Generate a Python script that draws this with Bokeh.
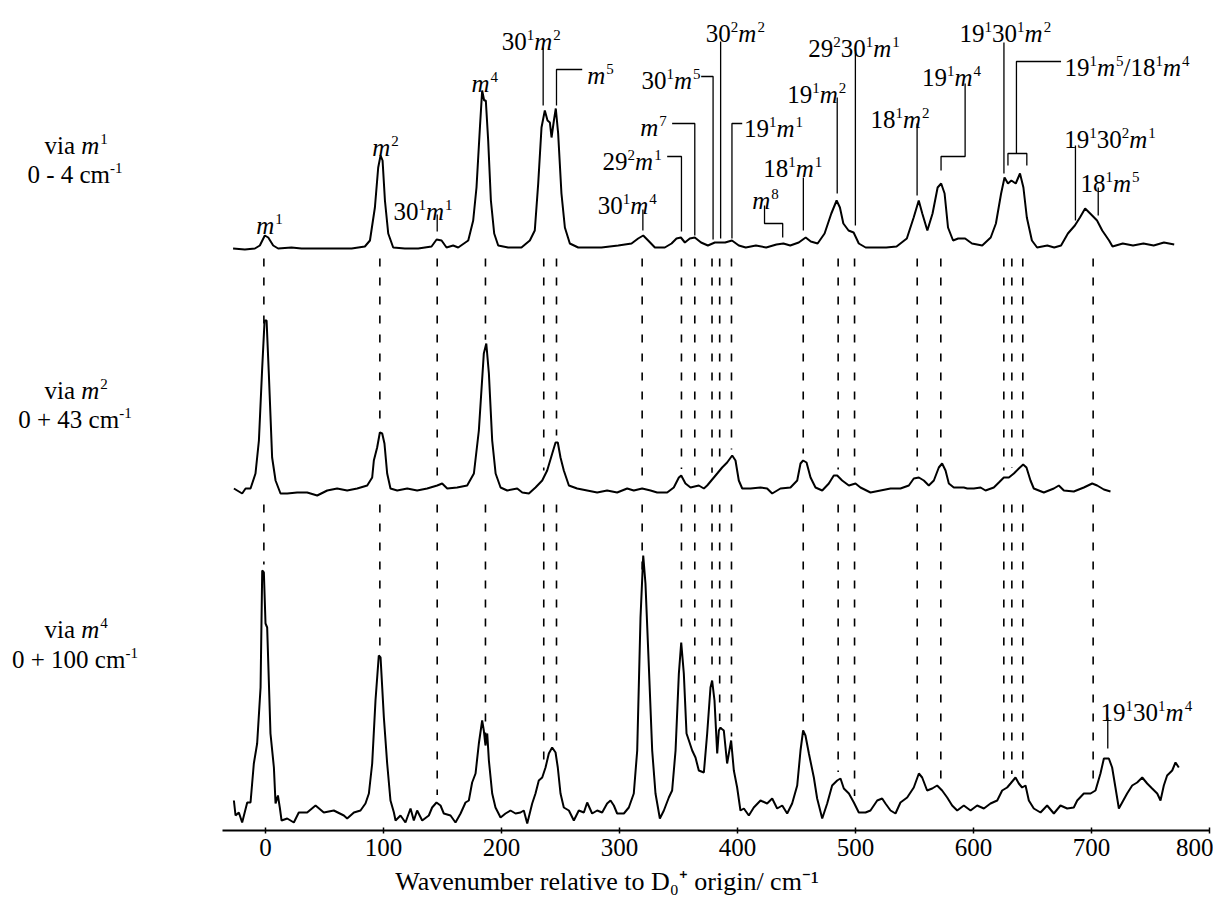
import numpy as np
from bokeh.plotting import figure
from bokeh.models import ColumnDataSource, Range1d, FixedTicker
from bokeh.core.properties import value
from bokeh.embed import file_html
from bokeh.resources import INLINE

FONT = "Liberation Serif"

# --- spectra: wavenumber (cm-1) and intensity (arb. units) ---
x_m1 = [-27.5, -17.5, -9.0, -4.8, -0.6, 2.3, 6.5, 10.7, 22.0, 30.5,
        44.6, 58.8, 73.0, 84.2, 88.5, 92.7, 95.5, 97.5, 99.2, 101.2,
        104.0, 108.2, 118.1, 129.4, 140.7, 145.0, 149.2, 153.4, 159.0, 163.3,
        171.8, 176.0, 178.8, 181.7, 183.6, 185.3, 186.7, 188.7, 191.0, 193.8,
        197.2, 205.6, 216.9, 224.0, 228.2, 231.1, 233.9, 236.7, 239.0, 241.0,
        242.4, 244.4, 246.0, 248.0, 250.8, 253.7, 257.9, 265.0, 273.4, 284.7,
        298.9, 310.2, 315.8, 320.1, 324.3, 330.0, 338.4, 344.1, 348.3, 352.0,
        355.4, 359.6, 363.8, 369.1, 374.9, 380.8, 389.5, 395.3, 401.1, 407.0,
        415.6, 424.3, 433.0, 438.9, 444.7, 451.9, 457.8, 462.1, 467.9, 473.8,
        479.5, 484.0, 486.8, 489.7, 494.1, 498.4, 502.8, 508.6, 517.3, 526.0,
        534.8, 543.5, 549.3, 553.6, 556.6, 560.9, 565.3, 569.6, 572.6, 575.5,
        578.4, 582.7, 587.0, 592.9, 598.7, 607.4, 614.6, 619.0, 623.4, 626.3,
        629.2, 632.1, 635.8, 639.4, 642.3, 645.2, 649.5, 653.9, 662.6, 668.4,
        674.2, 680.0, 685.9, 690.2, 694.6, 698.9, 704.7, 709.1, 714.9, 717.8,
        726.5, 735.2, 744.0, 752.7, 761.4, 770.1]
i_m1 = [0, -1, 0, 3, 13, 11, 3, 0, 1, 0,
        0, 0, 0, 2, 8, 41, 81, 93, 88, 48,
        15, 1, 0, 0, 2, 9, 8, 1, 3, 1,
        8, 28, 61, 121, 158, 148, 148, 108, 48, 15,
        3, 1, 1, 8, 18, 65, 121, 138, 128, 126,
        111, 128, 140, 115, 55, 21, 5, 1, 1, 1,
        3, 5, 10, 13, 8, 1, 1, 5, 10, 11,
        6, 10, 11, 6, 3, 6, 6, 8, 3, 1,
        3, 1, 4, 5, 3, 6, 11, 7, 5, 15,
        35, 48, 41, 25, 18, 16, 5, 1, 1, 1,
        2, 10, 31, 48, 35, 18, 35, 61, 65, 55,
        21, 8, 10, 10, 5, 3, 11, 25, 55, 71,
        65, 68, 65, 75, 61, 31, 8, 1, 3, 1,
        3, 15, 23, 31, 40, 35, 28, 18, 8, 2,
        5, 3, 5, 3, 6, 4]

x_m2 = [-26.8, -24.0, -19.8, -16.9, -12.7, -8.5, -5.6, -2.8, -0.8, 0.9,
        2.8, 5.6, 8.5, 12.7, 18.4, 26.8, 35.3, 43.8, 52.3, 60.7,
        69.2, 77.7, 86.2, 90.4, 91.8, 94.6, 96.9, 98.9, 100.8, 103.1,
        105.9, 111.6, 120.1, 128.5, 137.0, 145.5, 149.7, 154.0, 162.4, 170.9,
        176.6, 180.8, 185.0, 187.1, 189.3, 192.1, 195.0, 199.2, 204.8, 213.3,
        217.6, 223.2, 228.8, 234.5, 238.7, 243.0, 245.8, 247.7, 250.0, 252.8,
        257.1, 264.1, 272.6, 281.1, 289.5, 298.0, 306.5, 312.1, 319.2, 326.3,
        331.9, 340.4, 346.0, 350.3, 352.3, 355.9, 360.2, 367.2, 371.5,
        374.3, 382.8, 387.0, 391.2, 395.5, 398.3, 401.1, 404.0, 411.0, 419.5,
        425.1, 429.4, 436.4, 444.9, 450.6, 453.4, 455.6, 458.5, 461.9, 466.1,
        471.8, 477.4, 481.6, 484.5, 488.7, 494.4, 500.0, 504.2, 512.7, 521.2,
        529.7, 538.1, 545.2, 549.4, 553.7, 557.9, 562.1, 566.4, 570.6, 573.4,
        576.3, 579.1, 583.3, 591.8, 594.7, 600.3, 606.0, 610.2, 617.2, 621.5,
        625.7, 630.0, 634.2, 638.4, 642.1, 644.9, 648.3, 651.1, 659.6, 668.1,
        672.3, 676.6, 685.0, 693.5, 700.6, 704.8, 710.5, 716.1]
i_m2 = [2, 0, -3, 2, 2, 17, 50, 123, 170, 170,
        117, 33, 10, -3, -3, -2, -2, -5, 0, 2,
        0, 2, 5, 13, 30, 43, 58, 57, 47, 17,
        2, 0, 2, 0, 2, 5, 7, 2, 3, 5,
        17, 60, 137, 147, 117, 50, 17, 3, 0, 2,
        -2, -3, 3, 10, 20, 37, 48, 48, 33, 20,
        5, 2, 0, -2, 0, -2, 2, 0, 2, 0,
        -2, -2, 3, 13, 15, 7, 3, 5, 2,
        5, 17, 23, 28, 35, 30, 10, 2, 2, 3,
        2, -3, 2, 3, 10, 27, 30, 28, 13, 3,
        0, 7, 15, 15, 10, 5, 7, 3, -2, 0,
        2, 2, 5, 12, 13, 10, 5, 10, 23, 27,
        20, 7, 3, 3, 2, 2, 3, 0, 3, 8,
        13, 13, 17, 22, 26, 23, 10, 2, -2, 2,
        5, 0, -1, 3, 7, 5, 1, -1]

x_m4 = [-26.8, -25.4, -22.6, -19.8, -15.5, -12.7, -9.9, -7.1, -4.2, -2.8,
        -1.4, 0.0, 1.4, 4.2, 7.1, 8.5, 10.5, 12.1, 13.6, 18.4,
        24.0, 28.2, 35.3, 42.4, 49.4, 57.9, 66.4, 69.2, 74.9, 80.5,
        84.7, 87.6, 90.4, 93.2, 96.0, 97.5, 100.3, 103.1, 105.9, 108.8,
        110.2, 114.4, 118.6, 122.9, 125.7, 128.5, 132.8, 138.4, 141.2, 144.9,
        148.3, 151.1, 156.8, 161.0, 165.3, 169.5, 172.3, 175.1, 178.0, 180.8,
        183.6, 185.0, 186.4, 187.9, 189.3, 192.1, 194.9, 199.2, 203.4, 207.6,
        211.9, 216.1, 218.9, 221.8, 226.0, 228.8, 231.6, 234.5, 237.3, 240.1,
        242.9, 245.8, 247.7, 250.0, 252.8, 257.1, 261.3, 265.5, 269.8, 272.6,
        276.8, 281.1, 285.3, 289.5, 292.4, 295.2, 298.0, 303.7, 307.9, 312.1,
        315.0, 317.8, 320.1, 322.0, 324.9, 327.7, 330.5, 334.2, 337.6, 341.8,
        344.6, 347.5, 350.3, 352.3, 354.5, 356.8, 358.8, 361.6, 364.4, 367.2,
        371.5, 374.3, 377.1, 378.5, 380.5, 382.8, 384.2, 385.6,
        386.2, 388.4, 391.2, 394.6, 396.9, 399.7, 402.5, 405.4, 409.6, 413.8,
        419.5, 425.1, 429.4, 433.6, 437.9, 442.1, 446.3, 450.6, 453.4, 455.6,
        457.6, 460.5, 464.7, 467.5, 471.8, 476.0, 480.2, 484.5, 487.3, 490.1,
        494.4, 498.6, 502.8, 508.5, 512.7, 518.4, 522.6, 525.4, 529.7, 533.9,
        538.1, 543.8, 549.4, 553.7, 556.5, 560.7, 565.0, 569.2, 573.4, 577.7,
        581.9, 586.2, 591.8, 597.5, 603.1, 608.8, 614.4, 620.1, 624.3, 628.5,
        631.4, 635.6, 638.4, 641.2, 644.1, 646.9, 651.1, 656.8, 662.4, 668.1,
        673.7, 679.4, 685.0, 687.9, 693.5, 699.2, 703.4, 707.6, 710.5, 714.7,
        717.5, 720.3, 723.2, 726.0, 730.2, 734.5, 738.7, 743.0, 747.2, 751.4,
        755.7, 758.5, 761.3, 764.1, 768.4, 771.2, 774.0]
i_m4 = [13, -2, 1, -9, 11, 11, 50, 70, 126, 243,
        241, 190, 186, 80, 46, 10, 18, 6, -7, -5,
        -9, 1, 1, 8, 1, 3, -2, -5, 1, 3,
        10, 20, 50, 113, 158, 156, 96, 50, 13, 1,
        -7, -2, -9, 5, -7, 3, -7, -2, 6, 11,
        8, 0, -2, -9, 0, 11, 13, 31, 40, 70,
        93, 83, 68, 80, 53, 20, 6, -4, 0, 3,
        0, 1, 3, -10, 10, 20, 33, 36, 46, 60,
        66, 61, 46, 20, 6, 3, -7, 3, 1, 11,
        0, 3, 1, 10, 13, 8, 0, 0, 6, 20,
        63, 196, 258, 230, 146, 63, 20, -5, 3, 16,
        23, 63, 140, 171, 140, 80, 73, 63, 56, 43,
        41, 80, 126, 133, 113, 60, 83, 86,
        85, 83, 50, 73, 43, 26, 3, 5, -2, 6,
        13, 10, 15, 5, 8, 0, 10, 28, 63, 83,
        78, 60, 36, 15, -5, 10, 28, 33, 35, 25,
        20, 11, 1, 1, 3, 13, 15, 10, 3, 0,
        11, 16, 26, 40, 36, 23, 25, 28, 23, 16,
        8, 3, 8, 3, 8, 5, 10, 13, 23, 26,
        30, 36, 30, 26, 28, 13, 5, 1, 8, 0,
        8, 5, 6, 13, 20, 20, 23, 40, 55, 55,
        46, 26, 5, 11, 20, 28, 31, 36, 30, 25,
        20, 13, 28, 38, 43, 51, 46]

# vertical offsets of the three stacked traces
offsets = [582, 340, 17]

# band positions marked by the dashed guide lines (cm-1)
bands = [-1.4, 96.9, 145.5, 186.4, 235.8, 246.6, 319.2, 352.5, 363.8, 378.4,
         384.9, 394.9, 455.7, 485.3, 499.2, 552.3, 572.3, 625.7, 632.5, 641.8,
         701.4]

ticks = [0, 100, 200, 300, 400, 500, 600, 700, 800]

# assignments: markup (*italic*, ^sup, _sub), x (cm-1), baseline y, alignment
labels = [
    ("via *m*^1", -160.5, 685, "c"), ("0 - 4 cm^{-1}", -161.5, 656, "c"),
    ("via *m*^2", -160.5, 440, "c"), ("0 + 43 cm^{-1}", -161.5, 411, "c"),
    ("via *m*^4", -160.5, 201, "c"), ("0 + 100 cm^{-1}", -161.5, 171, "c"),
    ("*m*^1", 3.4, 605, "c"), ("*m*^2", 101.7, 683, "c"),
    ("30^1*m*^1", 133.5, 619, "c"), ("*m*^4", 185.8, 747, "c"),
    ("30^1*m*^2", 225.2, 789, "c"), ("*m*^5", 272.6, 755, "l"),
    ("30^1*m*^4", 306.5, 625, "c"), ("29^2*m*^1", 310.7, 669, "c"),
    ("*m*^7", 328.8, 703, "c"), ("30^1*m*^5", 343.7, 750, "c"),
    ("30^2*m*^2", 398.2, 797, "c"), ("19^1*m*^1", 405.4, 702, "l"),
    ("*m*^8", 423.7, 630, "c"), ("18^1*m*^1", 446.9, 662, "c"),
    ("19^1*m*^2", 467.2, 736, "c"), ("29^230^1*m*^1", 498.7, 782, "c"),
    ("18^1*m*^2", 537.7, 711, "c"), ("19^1*m*^4", 581.3, 753, "c"),
    ("19^130^1*m*^2", 627.0, 797, "c"), ("19^1*m*^5/18^1*m*^4", 677.1, 763, "l"),
    ("19^130^2*m*^1", 715.7, 691, "c"), ("18^1*m*^5", 715.7, 647, "c"),
    ("19^130^1*m*^4", 746.5, 118, "c"),
]

# leader lines from the labels to the bands
leaders = [
    ([145.5, 145.5], [616, 599]),
    ([235.3, 235.3], [783, 725]),
    ([246.6, 246.6, 268.4], [725, 761, 761]),
    ([319.8, 319.8], [621, 600]),
    ([340.4, 352.5, 352.5], [674, 674, 599]),
    ([344.6, 363.8, 363.8], [707, 707, 595]),
    ([369.2, 379.3, 379.3], [754, 754, 591]),
    ([385.7, 385.7], [789, 592]),
    ([404.0, 395.3, 395.3], [707, 707, 592]),
    ([422.9, 422.9, 438.3, 438.3], [625, 607, 607, 593]),
    ([455.8, 455.8], [653, 600]),
    ([484.5, 484.5], [733, 637]),
    ([499.9, 499.9], [778, 605]),
    ([552.2, 552.2], [707, 635]),
    ([592.9, 592.9, 572.5, 572.5], [747, 674, 674, 660]),
    ([625.8, 625.8], [788, 657]),
    ([674.2, 636.4, 636.4], [769, 769, 677]),
    ([629.2, 629.2, 645.2, 645.2], [665, 677, 677, 665]),
    ([686.4, 686.4], [685, 610]),
    ([705.7, 705.7], [643, 615]),
    ([713.8, 713.8], [113, 82]),
]

# Times (Liberation Serif) advance widths, 1/1000 em
ROMAN = {" ": 250, "-": 333, "+": 564, "/": 278, "c": 444, "i": 278,
         "m": 778, "v": 500, "a": 444}
ITALIC = {"m": 722}


def parse(s):
    segs, i = [], 0
    while i < len(s):
        c = s[i]
        if c in "^_":
            if s[i + 1] == "{":
                j = s.index("}", i)
                segs.append((c, s[i + 2:j]))
                i = j + 1
            else:
                segs.append((c, s[i + 1]))
                i += 2
        elif c == "*":
            j = s.index("*", i + 1)
            segs.append(("i", s[i + 1:j]))
            i = j + 1
        else:
            if segs and segs[-1][0] == "n":
                segs[-1] = ("n", segs[-1][1] + c)
            else:
                segs.append(("n", c))
            i += 1
    return segs


def place(markup, big, small):
    out, pos = [], 0.0
    for kind, txt in parse(markup):
        if kind == "i":
            w = sum(ITALIC.get(c, 500) for c in txt) * big / 1000 + 1
            out.append((kind, txt, pos))
        elif kind in "^_":
            w = sum(ROMAN.get(c, 500) for c in txt) * small / 1000
            out.append((kind, txt, pos))
        else:
            lead = len(txt) - len(txt.lstrip(" "))
            w = sum(ROMAN.get(c, 500) for c in txt) * big / 1000
            out.append((kind, txt.strip(" "), pos + lead * 250 * big / 1000))
        pos += w
    return out, pos


p = figure(width=1213, height=905, x_range=Range1d(-224.6, 803.4),
           y_range=Range1d(0, 830), output_backend="svg", toolbar_location=None,
           y_axis_location=None, min_border_left=0, min_border_right=0,
           min_border_top=0, min_border_bottom=75)
p.grid.visible = False
p.outline_line_color = None
p.background_fill_color = "white"
p.border_fill_color = "white"

ax = p.xaxis[0]
ax.bounds = (-36.4, 800)
ax.ticker = FixedTicker(ticks=ticks)
ax.axis_line_width = 2
ax.axis_line_color = "black"
ax.major_tick_line_width = 1.5
ax.major_tick_line_color = "black"
ax.major_tick_in = 3
ax.major_tick_out = 3
ax.minor_tick_line_color = None
ax.major_label_text_font = FONT
ax.major_label_text_font_size = "25px"
ax.major_label_text_color = "black"
ax.major_label_standoff = 5
ax.axis_label = "Wavenumber relative to D\u2080\u207a origin/ cm\u207b\u00b9"
ax.axis_label_text_font = FONT
ax.axis_label_text_font_size = "26px"
ax.axis_label_text_font_style = "normal"
ax.axis_label_text_color = "black"
ax.axis_label_standoff = 8

# spectra
for xs, ys, off in zip([x_m1, x_m2, x_m4], [i_m1, i_m2, i_m4], offsets):
    p.line(xs, np.array(ys) + off, line_color="black", line_width=2)

# dashed guides between the traces
b = np.array(bands)
end_mid = np.interp(b, x_m2, i_m2) + offsets[1] + 7
end_bot = np.interp(b, x_m4, i_m4) + offsets[2] + 8
p.multi_line([[v, v] for v in bands] * 2,
             [[572, e] for e in end_mid] + [[326, e] for e in end_bot],
             line_color="black", line_width=1.6, line_dash="8 11")

# leader lines
p.multi_line([l[0] for l in leaders], [l[1] for l in leaders],
             line_color="black", line_width=1.3)

# rich-text labels as separate runs
F, S = 25, 15
runs = {k: dict(x=[], y=[], text=[], dx=[], dy=[]) for k in ("n", "i", "s")}
for markup, xc, yb, align in labels:
    segs, width = place(markup, F, S)
    shift = -width / 2 if align == "c" else 0
    for kind, txt, dx in segs:
        key = {"n": "n", "i": "i", "^": "s", "_": "s"}[kind]
        r = runs[key]
        r["x"].append(xc)
        r["y"].append(yb)
        r["text"].append(txt)
        r["dx"].append(dx + shift)
        r["dy"].append({"^": -7, "_": 5}.get(kind, 0))

for key, size, style in (("n", F, "normal"), ("i", F, "italic"), ("s", S, "normal")):
    p.text(x="x", y="y", text="text", x_offset="dx", y_offset="dy",
           source=ColumnDataSource(runs[key]), text_font=value(FONT),
           text_font_size=f"{size}px", text_font_style=style,
           text_color="black", text_align="left", text_baseline="alphabetic")

open("out.html", "w").write(file_html(p, INLINE))
